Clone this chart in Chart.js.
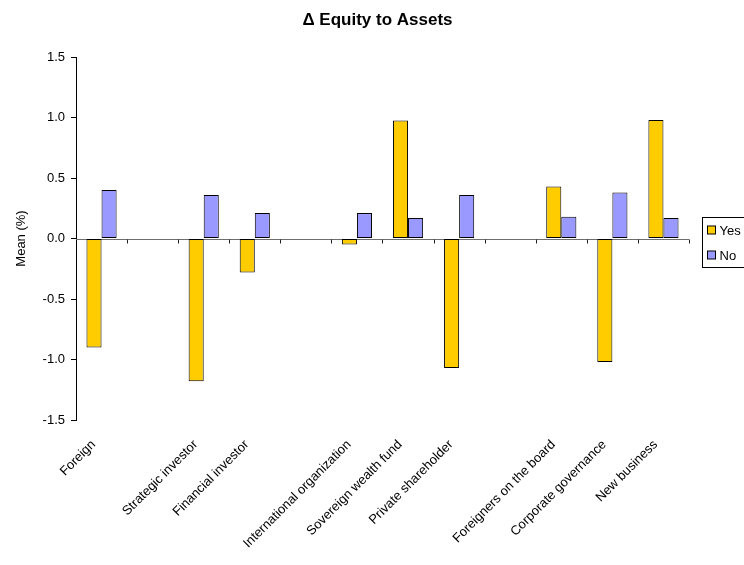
<!DOCTYPE html>
<html>
<head>
<meta charset="utf-8">
<script src="https://cdn.jsdelivr.net/npm/chart.js@4/dist/chart.umd.min.js"></script>
<style>
  html, body { margin: 0; padding: 0; background: #fff; }
  #wrap { width: 744px; height: 565px; }
</style>
</head>
<body>
<div id="wrap"><canvas id="equityChart" width="744" height="565"></canvas></div>
<script>
const categories = ['Foreign', '', 'Strategic investor', 'Financial investor', '',
  'International organization', 'Sovereign wealth fund', 'Private shareholder', '',
  'Foreigners on the board', 'Corporate governance', 'New business'];
const yesValues = [-0.90, null, -1.18, -0.28, null, -0.05, 0.975, -1.07, null, 0.43, -1.02, 0.98];
const noValues = [0.40, null, 0.36, 0.21, null, 0.21, 0.17, 0.36, null, 0.18, 0.38, 0.17];
const seriesNames = ['Yes', 'No'];
const yTicks = [-1.5, -1.0, -0.5, 0.0, 0.5, 1.0, 1.5];
const chartTitle = 'Δ Equity to Assets';

const FONT = "'Liberation Sans', Arial, sans-serif";

// title centred over the plot area (not the whole canvas)
const plotTitle = {
  id: 'plotTitle',
  afterDraw(chart) {
    const ctx = chart.ctx, a = chart.chartArea;
    ctx.save();
    ctx.font = 'bold 17px ' + FONT;
    ctx.fillStyle = '#000';
    ctx.textAlign = 'center';
    ctx.textBaseline = 'middle';
    ctx.fillText(chartTitle, (a.left + a.right) / 2 - 5, 20);
    ctx.restore();
  }
};

// zero line + small ticks at category boundaries
const zeroAxis = {
  id: 'zeroAxis',
  beforeDatasetsDraw(chart) {
    const ctx = chart.ctx, x = chart.scales.x, y = chart.scales.y;
    const y0 = Math.round(y.getPixelForValue(0)) + 0.5;
    ctx.save();
    ctx.strokeStyle = '#6e6e6e';
    ctx.lineWidth = 1;
    ctx.beginPath();
    ctx.moveTo(chart.chartArea.left, y0);
    ctx.lineTo(chart.chartArea.right, y0);
    ctx.stroke();
    const step = x.getPixelForValue(1) - x.getPixelForValue(0);
    ctx.strokeStyle = '#222';
    for (let i = 1; i <= categories.length; i++) {
      const px = Math.round(x.getPixelForValue(i) - step / 2) + 0.5;
      ctx.beginPath();
      ctx.moveTo(px, y0);
      ctx.lineTo(px, y0 + 4);
      ctx.stroke();
    }
    ctx.restore();
  }
};

// boxed legend at the right, partly out of the picture like the original
const boxLegend = {
  id: 'boxLegend',
  afterDraw(chart) {
    const ctx = chart.ctx;
    const bx = 702.5, by = 217.5;
    ctx.save();
    ctx.fillStyle = '#fff';
    ctx.strokeStyle = '#000';
    ctx.lineWidth = 1;
    ctx.fillRect(bx, by, 80, 50);
    ctx.strokeRect(bx, by, 80, 50);
    ctx.font = '13px ' + FONT;
    ctx.textBaseline = 'middle';
    chart.data.datasets.forEach((ds, i) => {
      const cy = by + 12.5 + i * 25;
      ctx.fillStyle = ds.backgroundColor;
      ctx.fillRect(bx + 5, cy - 4, 8, 8);
      ctx.strokeStyle = '#000';
      ctx.strokeRect(bx + 5, cy - 4, 8, 8);
      ctx.fillStyle = '#000';
      ctx.fillText(ds.label, bx + 17, cy + 1);
    });
    ctx.restore();
  }
};

new Chart(document.getElementById('equityChart').getContext('2d'), {
  type: 'bar',
  data: {
    labels: categories,
    datasets: [{
      label: seriesNames[0],
      data: yesValues,
      backgroundColor: '#FFCC00',
      borderColor: '#000',
      borderWidth: 1,
      borderSkipped: false
    }, {
      label: seriesNames[1],
      data: noValues,
      backgroundColor: '#9999FF',
      borderColor: '#000',
      borderWidth: 1,
      borderSkipped: false
    }]
  },
  options: {
    responsive: false,
    animation: false,
    layout: { padding: { right: 55, left: 0, top: 57, bottom: 0 } },
    categoryPercentage: 0.59,
    barPercentage: 1.0,
    plugins: {
      legend: { display: false },
      tooltip: { enabled: false },
      title: { display: false }
    },
    scales: {
      x: {
        grid: { display: false },
        border: { display: false },
        ticks: {
          autoSkip: false,
          minRotation: 45,
          maxRotation: 45,
          color: '#000',
          padding: 9,
          labelOffset: -8,
          font: { family: FONT, size: 13 }
        },
        afterFit(scale) { scale.height = 145; }
      },
      y: {
        min: -1.5,
        max: 1.5,
        afterBuildTicks(scale) { scale.ticks = yTicks.map(v => ({ value: v })); },
        grid: { drawOnChartArea: false, drawTicks: true, tickLength: 5, color: '#000' },
        border: { display: true, color: '#000' },
        ticks: {
          color: '#000',
          padding: 6,
          font: { family: FONT, size: 13 },
          callback: v => v.toFixed(1)
        },
        title: {
          display: true,
          text: 'Mean (%)',
          color: '#000',
          font: { family: FONT, size: 13 },
          padding: { top: 14, bottom: 0 }
        },
        afterFit(scale) { scale.width = 76; }
      }
    }
  },
  plugins: [zeroAxis, boxLegend, plotTitle]
});
</script>
</body>
</html>
